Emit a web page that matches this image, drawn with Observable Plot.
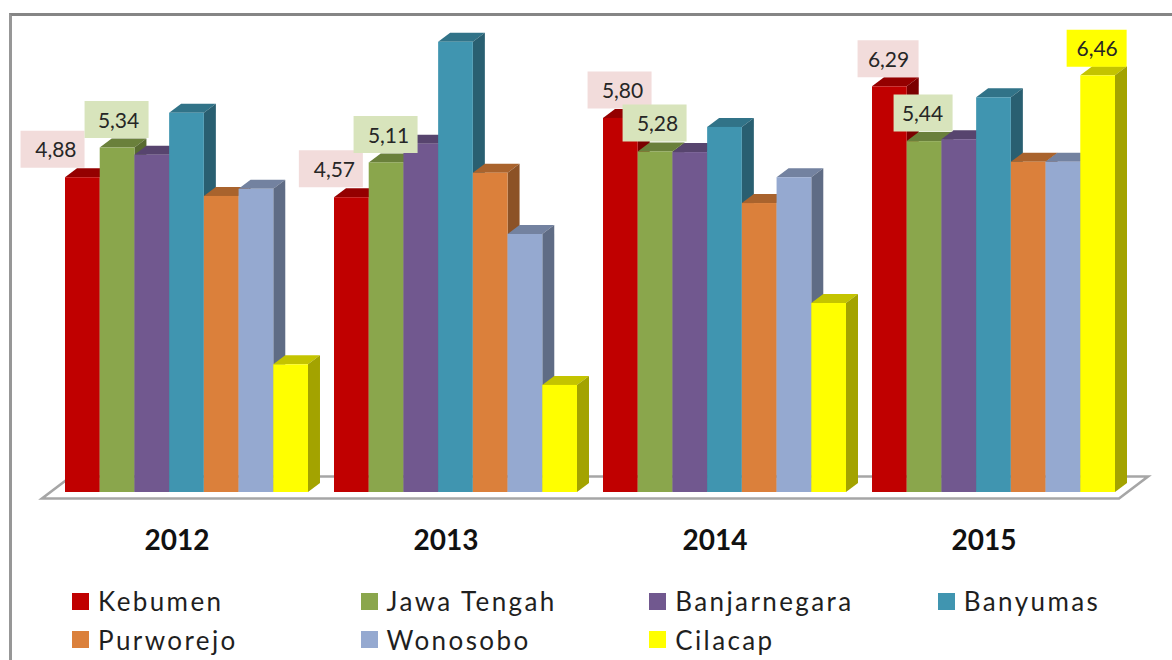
<!DOCTYPE html>
<html>
<head>
<meta charset="utf-8">
<script src="https://cdn.jsdelivr.net/npm/d3@7"></script>
<script src="https://cdn.jsdelivr.net/npm/@observablehq/plot@0.6"></script>
<style>
  html, body { margin: 0; padding: 0; background: #fff; overflow: hidden; }
  #page { position: relative; width: 1172px; height: 660px; overflow: hidden; font-family: Lato, sans-serif; }
  #frame { position: absolute; left: 9px; top: 13px; right: -5px; bottom: -5px; border-top: 3px solid #858585; border-left: 3px solid #979797; pointer-events: none; }
  #chart svg { display: block; }
  #legend { position: absolute; left: 72px; top: 582px; display: grid; grid-template-columns: repeat(4, 288.6px); grid-auto-rows: 38.5px; color: #1f1f1f; font-size: 26px; letter-spacing: 2.4px; }
  #legend div { display: flex; align-items: center; white-space: nowrap; }
  #legend i { display: inline-block; width: 17px; height: 17px; margin-right: 9px; }
</style>
</head>
<body>
<div id="page">
  <div id="chart"></div>
  <div id="legend"></div>
  <div id="frame"></div>
</div>
<script>
const years = ["2012", "2013", "2014", "2015"];
const seriesNames = ["Kebumen", "Jawa Tengah", "Banjarnegara", "Banyumas", "Purworejo", "Wonosobo", "Cilacap"];
const seriesColors = ["#c00000", "#8aa64c", "#71588f", "#4095b0", "#db803b", "#95a9d0", "#ffff00"];

const kebumen      = [4.88, 4.57, 5.80, 6.29];
const jawaTengah   = [5.34, 5.11, 5.28, 5.44];
const banjarnegara = [5.23, 5.40, 5.27, 5.47];
const banyumas     = [5.88, 6.98, 5.66, 6.12];
const purworejo    = [4.59, 4.95, 4.48, 5.12];
const wonosobo     = [4.70, 4.00, 4.88, 5.12];
const cilacap      = [1.98, 1.66, 2.93, 6.46];
const seriesValues = [kebumen, jawaTengah, banjarnegara, banyumas, purworejo, wonosobo, cilacap];

const rows = years.flatMap((year, yi) =>
  seriesNames.map((series, si) => ({year, series, value: seriesValues[si][yi]})));

// Data labels: which bar is labelled, and how its callout sits relative to the bar top.
const labelled = [
  {year: "2012", series: "Kebumen",     fill: "#f2dcdb", w: 64, bx: -30.3, by: -28.5, tx: -27,   ty: -27},
  {year: "2012", series: "Jawa Tengah", fill: "#d8e4bc", w: 64, bx: -1,    by: -28.5, tx: 1,     ty: -27},
  {year: "2013", series: "Kebumen",     fill: "#f2dcdb", w: 64, bx: -21,   by: -29,   tx: -17.5, ty: -27},
  {year: "2013", series: "Jawa Tengah", fill: "#d8e4bc", w: 64, bx: -1,    by: -28.5, tx: 2,     ty: -27},
  {year: "2014", series: "Kebumen",     fill: "#f2dcdb", w: 64, bx: -1.3,  by: -28.5, tx: 1.7,   ty: -27},
  {year: "2014", series: "Jawa Tengah", fill: "#d8e4bc", w: 64, bx: -1,    by: -29,   tx: 2,     ty: -27.5},
  {year: "2015", series: "Kebumen",     fill: "#f2dcdb", w: 61, bx: -1.8,  by: -28,   tx: -1.3,  ty: -26.5},
  {year: "2015", series: "Jawa Tengah", fill: "#d8e4bc", w: 59, bx: -1.5,  by: -28.5, tx: -2,    ty: -27},
  {year: "2015", series: "Cilacap",     fill: "#ffff00", w: 60, bx: -1.5,  by: -27.5, tx: -1,    ty: -27}
];
const valueOf = l => rows.find(r => r.year === l.year && r.series === l.series).value;
const comma = v => v.toFixed(2).replace(".", ",");

const DX = 12, DY = 9;
const shade = (c, k) => { const o = d3.rgb(c); return d3.rgb(o.r * k, o.g * k, o.b * k).formatHex(); };

// Adds the top and side faces to every rect the bar mark draws.
function extrude(index, scales, values, dims, ctx, next) {
  const g = next(index, scales, values, dims, ctx);
  const ns = "http://www.w3.org/2000/svg";
  for (const r of Array.from(g.querySelectorAll("rect"))) {
    const x = +r.getAttribute("x"), y = +r.getAttribute("y");
    const w = +r.getAttribute("width"), h = +r.getAttribute("height");
    const f = r.getAttribute("fill");
    const top = document.createElementNS(ns, "polygon");
    top.setAttribute("points", `${x},${y} ${x + w},${y} ${x + w + DX},${y - DY} ${x + DX},${y - DY}`);
    top.setAttribute("fill", shade(f, 0.77));
    const side = document.createElementNS(ns, "polygon");
    side.setAttribute("points", `${x + w},${y} ${x + w + DX},${y - DY} ${x + w + DX},${y + h - DY} ${x + w},${y + h}`);
    side.setAttribute("fill", shade(f, 0.64));
    r.parentNode.insertBefore(top, r);
    r.parentNode.insertBefore(side, r);
  }
  return g;
}

// Floor under the columns, placed once from the whole plot frame.
function floorRender(index, scales, values, dims) {
  const ns = "http://www.w3.org/2000/svg";
  const base = dims.height - dims.marginBottom;
  const l = dims.marginLeft, rr = dims.width - dims.marginRight;
  const p = document.createElementNS(ns, "polygon");
  p.setAttribute("points", `${l - 23},${base + 6.5} ${rr + 4},${base + 6.5} ${rr + 33},${base - 15.5} ${l + 6},${base - 15.5}`);
  p.setAttribute("fill", "#ffffff");
  p.setAttribute("stroke", "#a6a6a6");
  p.setAttribute("stroke-width", 2.6);
  return p;
}

const boxMarks = labelled.map(l => Plot.dot([{...l, value: valueOf(l)}], {
  fx: "year", x: "series", y: "value", r: 5, fill: l.fill, stroke: "none",
  dx: l.bx, dy: l.by,
  symbol: {draw(c) { c.rect(-l.w / 2, -18.5, l.w, 37); }}
}));
const textMarks = labelled.map(l => Plot.text([{...l, value: valueOf(l)}], {
  fx: "year", x: "series", y: "value", text: d => comma(d.value),
  dx: l.tx, dy: l.ty, fontSize: 21, fill: "#262626", fontFamily: "Lato"
}));

const chart = Plot.plot({
  width: 1172, height: 584,
  marginLeft: 65, marginRight: 57, marginTop: 40.5, marginBottom: 92,
  style: {background: "transparent", fontFamily: "Lato"},
  fx: {domain: years, paddingInner: 0.0967, paddingOuter: 0, round: false, axis: null, label: null},
  x: {domain: seriesNames, padding: 0, round: false, axis: null},
  y: {domain: [0, 7], axis: null},
  color: {domain: seriesNames, range: seriesColors},
  marks: [
    Plot.frame({facet: "super", render: floorRender}),
    Plot.barY(rows, {fx: "year", x: "series", y: "value", fill: "series", render: extrude}),
    ...boxMarks,
    ...textMarks,
    Plot.axisFx({anchor: "bottom", tickSize: 0, tickPadding: 38, dx: -10, label: null,
      fontSize: 28, fontWeight: "bold", fill: "#111", fontFamily: "Lato"})
  ]
});
document.getElementById("chart").appendChild(chart);

const legend = document.getElementById("legend");
seriesNames.forEach((name, i) => {
  const item = document.createElement("div");
  const sw = document.createElement("i");
  sw.style.background = seriesColors[i];
  item.appendChild(sw);
  item.appendChild(document.createTextNode(name));
  legend.appendChild(item);
});
</script>
</body>
</html>
